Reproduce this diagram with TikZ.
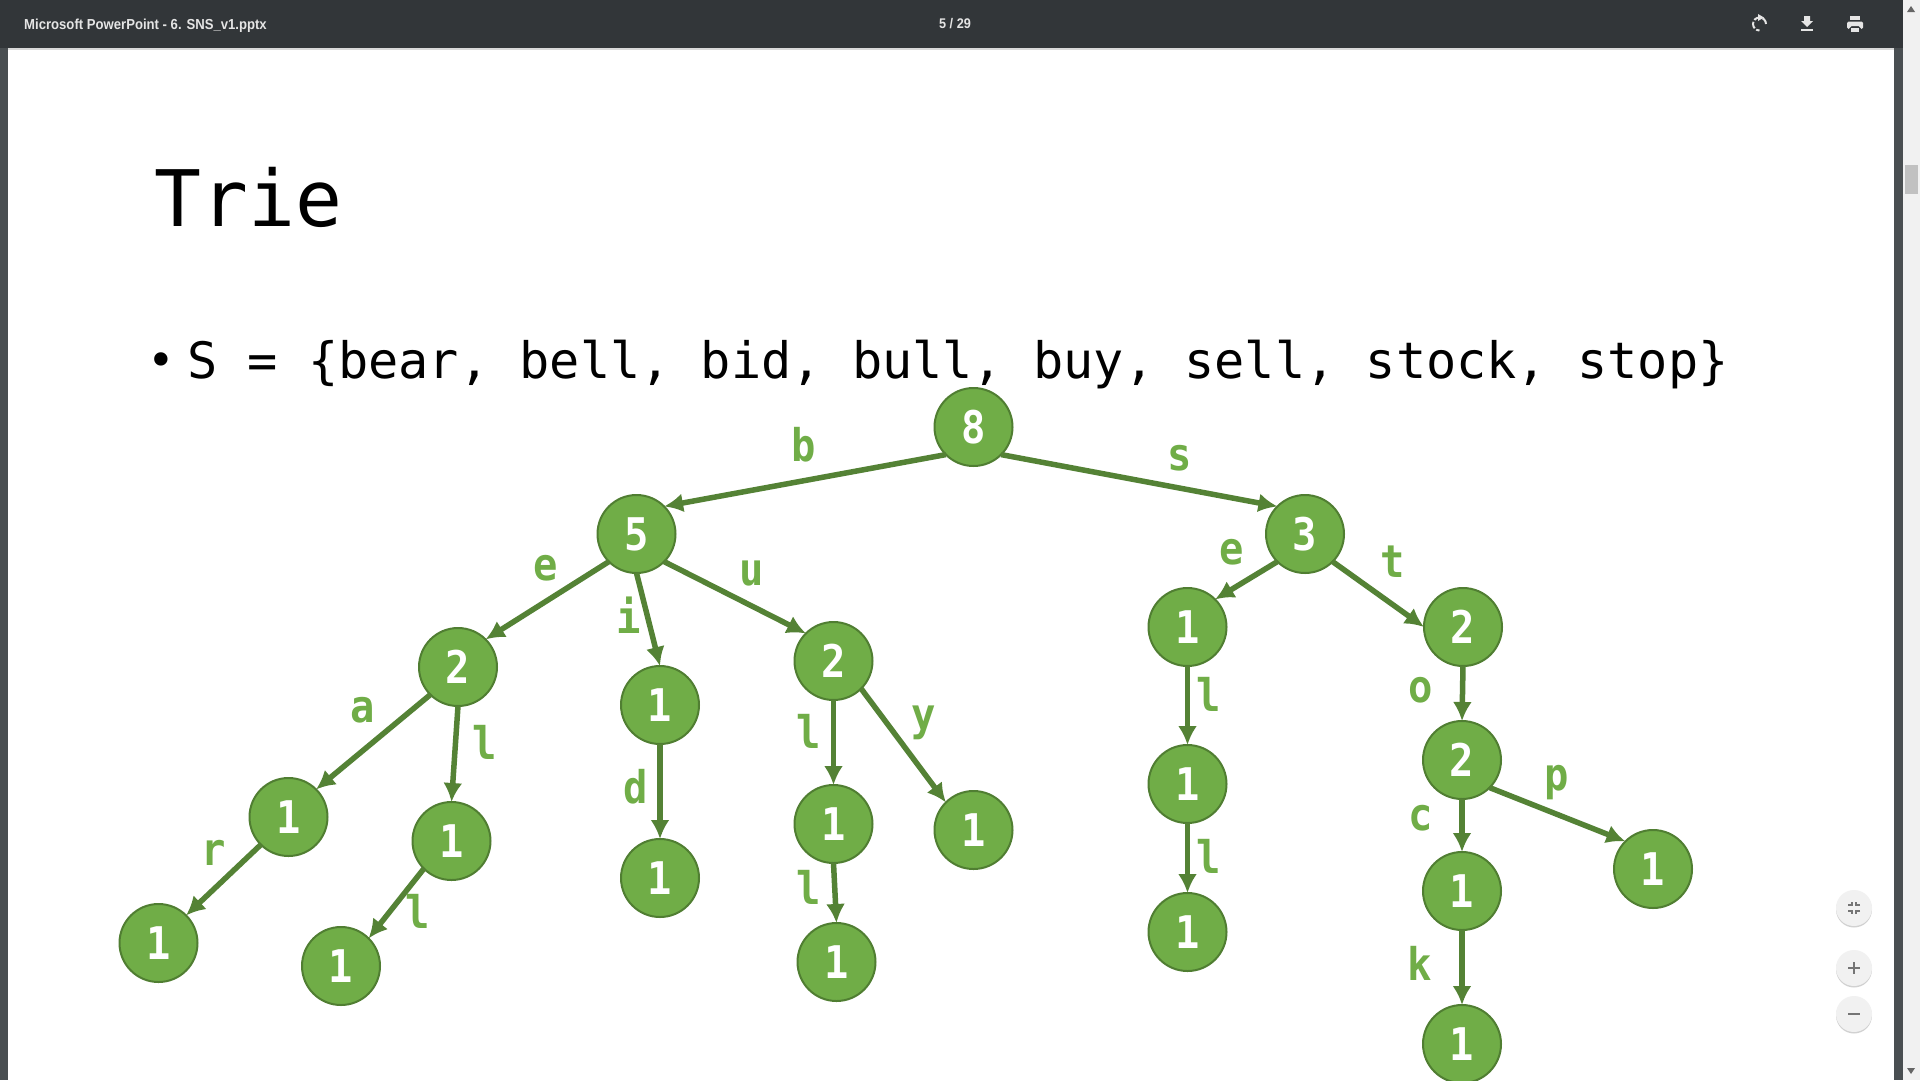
\documentclass[tikz,border=0pt]{standalone}
\usepackage{fontspec}
\setmainfont{DejaVu Sans Mono}
\newfontfamily\barfont[FakeStretch=.905]{Liberation Sans}
\newfontfamily\triefont[FakeStretch=.9]{DejaVu Sans Mono}
\usepackage{tikz}
\usetikzlibrary{arrows.meta}
\tikzset{>={Latex[length=19pt,width=19pt]}}
\definecolor{barcol}{HTML}{323639}
\definecolor{stripcol}{HTML}{494E51}
\definecolor{scrollcol}{HTML}{F1F1F1}
\definecolor{thumbcol}{HTML}{C1C1C1}
\definecolor{nodecol}{HTML}{70AD47}
\definecolor{bordercol}{HTML}{507E32}
\definecolor{edgecol}{HTML}{548235}
\definecolor{iconcol}{HTML}{757575}

\begin{document}
\begin{tikzpicture}[x=1pt,y=-1pt]
      \tikzstyle{trienode}=[circle,draw=bordercol,line width=2pt,fill=nodecol,minimum size=78pt,inner sep=0pt,outer sep=0pt,text=white,font=\triefont\bfseries\fontsize{45}{45}\selectfont];
      \tikzstyle{edge}=[->,draw=edgecol,line width=5.5pt];
      \tikzstyle{letter}=[text=nodecol,inner sep=0pt,font=\triefont\bfseries\fontsize{45}{45}\selectfont];
      \tikzstyle{roundbtn}=[circle,fill=scrollcol,minimum size=36pt,inner sep=0pt];
      \tikzstyle{btnshadow}=[circle,fill=black!18,minimum size=36pt,inner sep=0pt];
      \tikzstyle{baricon}=[draw=white!90!black,line width=2pt];
      \useasboundingbox (0,0) rectangle (1920,1080);
      \fill[white] (0,0) rectangle (1920,1080);

      % slide text
      \node[anchor=base west,inner sep=0pt,font=\fontsize{78}{78}\selectfont] (title) at (154,226) {Trie};
      \node[inner sep=0pt,font=\fontsize{46}{46}\selectfont] (dot) at (161,365) {•};
      \node[anchor=base west,inner sep=0pt,font=\fontsize{50.2}{50.2}\selectfont] (set) at (187,378) {S = \{bear, bell, bid, bull, buy, sell, stock, stop\}};

      % tree
      \node[trienode] (root) at (973.5,427) {8};
      \node[trienode] (b) at (636.5,534) {5};
      \node[trienode] (s) at (1305,534) {3};
      \node[trienode] (be) at (458,667) {2};
      \node[trienode] (bi) at (660,705) {1};
      \node[trienode] (bu) at (833.5,661) {2};
      \node[trienode] (se) at (1187.5,627) {1};
      \node[trienode] (st) at (1463,627) {2};
      \node[trienode] (bea) at (288.5,817) {1};
      \node[trienode] (bel) at (451.5,841) {1};
      \node[trienode] (bid) at (660,878) {1};
      \node[trienode] (bul) at (833.5,824) {1};
      \node[trienode] (buy) at (973.5,830) {1};
      \node[trienode] (sel) at (1187.5,784) {1};
      \node[trienode] (sto) at (1462,760) {2};
      \node[trienode] (bear) at (158.5,943) {1};
      \node[trienode] (bell) at (341,966) {1};
      \node[trienode] (bull) at (836.5,962) {1};
      \node[trienode] (sell) at (1187.5,932) {1};
      \node[trienode] (stoc) at (1462,891) {1};
      \node[trienode] (stop) at (1653,869) {1};
      \node[trienode] (stock) at (1462,1044) {1};

      \draw[edge] (root.south west)--(b.north east);
      \draw[edge] (root.south east)--(s.north west);
      \draw[edge] (b.south west)--(be.north east);
      \draw[edge] (b.south)--(bi.north);
      \draw[edge] (b.south east)--(bu.north west);
      \draw[edge] (s.south west)--(se.north east);
      \draw[edge] (s.south east)--(st.west);
      \draw[edge] (be.south west)--(bea.north east);
      \draw[edge] (be.south)--(bel.north);
      \draw[edge] (bi.south)--(bid.north);
      \draw[edge] (bu.south)--(bul.north);
      \draw[edge] (bu.south east)--(buy.north west);
      \draw[edge] (se.south)--(sel.north);
      \draw[edge] (st.south)--(sto.north);
      \draw[edge] (bea.south west)--(bear.north east);
      \draw[edge] (bel.south west)--(bell.north east);
      \draw[edge] (bul.south)--(bull.north);
      \draw[edge] (sel.south)--(sell.north);
      \draw[edge] (sto.south)--(stoc.north);
      \draw[edge] (sto.south east)--(stop.north west);
      \draw[edge] (stoc.south)--(stock.north);

      \node[letter] (lb) at (804,445) {b};
      \node[letter] (ls) at (1180,458) {s};
      \node[letter] (lbe) at (546,568) {e};
      \node[letter] (lbi) at (629,615) {i};
      \node[letter] (lbu) at (752,574) {u};
      \node[letter] (lbea) at (363,710) {a};
      \node[letter] (lbel) at (485,742) {l};
      \node[letter] (lbid) at (636,787) {d};
      \node[letter] (lbul) at (809,731) {l};
      \node[letter] (lbuy) at (924,723) {y};
      \node[letter] (lbull) at (809,887) {l};
      \node[letter] (lbear) at (214,853) {r};
      \node[letter] (lbell) at (418,911) {l};
      \node[letter] (lse) at (1232,552) {e};
      \node[letter] (lst) at (1393,562) {t};
      \node[letter] (lsto) at (1421,690) {o};
      \node[letter] (lsel) at (1209,694) {l};
      \node[letter] (lsell) at (1209,856) {l};
      \node[letter] (lstop) at (1557,783) {p};
      \node[letter] (lstoc) at (1421,818) {c};
      \node[letter] (lstock) at (1420,963) {k};

      % viewer frame
      \fill[stripcol] (0,48) rectangle (7.5,1080);
      \fill[stripcol] (1894,48) rectangle (1903,1080);
      \fill[scrollcol] (1903,0) rectangle (1920,1080);
      \fill[thumbcol] (1905,165) rectangle (1918,194);
      \fill[black!60] (1911,6)--(1915,12)--(1907,12)--cycle;
      \fill[black!60] (1907,1068)--(1915,1068)--(1911,1074)--cycle;
      \fill[black!15] (7.5,48) rectangle (1894,50);
      \fill[barcol] (0,0) rectangle (1903,48);
      \node[anchor=base west,inner sep=0pt,text=white!90!black,font=\barfont\bfseries\fontsize{14.5}{14.5}\selectfont] (file) at (24,29) {Microsoft PowerPoint - 6. SNS\_v1.pptx};
      \node[text=white!90!black,inner sep=0pt,font=\barfont\bfseries\fontsize{14}{14}\selectfont] (page) at (955,24) {5 / 29};

      % toolbar icons
      \draw[baricon,dash pattern=on 7pt off 2pt] (1766,24) arc(0:-270:6.5);
      \fill[white!90!black] (1758,14)--(1764,17.5)--(1758,21)--cycle;
      \fill[white!90!black] (1804,16)--(1810,16)--(1810,21)--(1813,21)--(1807,27)--(1801,21)--(1804,21)--cycle;
      \fill[white!90!black] (1801,29)--(1813,29)--(1813,31)--(1801,31)--cycle;
      \fill[white!90!black] (1850,16)--(1860,16)--(1860,20)--(1850,20)--cycle;
      \fill[white!90!black,rounded corners=1.5pt] (1847,21.5)--(1863,21.5)--(1863,29)--(1860,29)--(1860,26)--(1850,26)--(1850,29)--(1847,29)--cycle;
      \fill[white!90!black] (1851,28)--(1859,28)--(1859,32)--(1851,32)--cycle;

      % zoom buttons
      \node[btnshadow] (shadowa) at (1854,909.5) {};
      \node[btnshadow] (shadowb) at (1854,969.5) {};
      \node[btnshadow] (shadowc) at (1854,1015.5) {};
      \node[roundbtn] (fitbtn) at (1854,908) {};
      \node[roundbtn] (plusbtn) at (1854,968) {};
      \node[roundbtn] (minusbtn) at (1854,1014) {};
      \draw[iconcol,line width=1.3pt] (1848,905)--(1852,905)--(1852,902);
      \draw[iconcol,line width=1.3pt] (1860,905)--(1856,905)--(1856,902);
      \draw[iconcol,line width=1.3pt] (1848,911)--(1852,911)--(1852,914);
      \draw[iconcol,line width=1.3pt] (1860,911)--(1856,911)--(1856,914);
      \draw[iconcol,line width=1.8pt] (1848,968)--(1860,968);
      \draw[iconcol,line width=1.8pt] (1854,962)--(1854,974);
      \draw[iconcol,line width=1.8pt] (1848,1014)--(1860,1014);
    \end{tikzpicture}
\end{document}
